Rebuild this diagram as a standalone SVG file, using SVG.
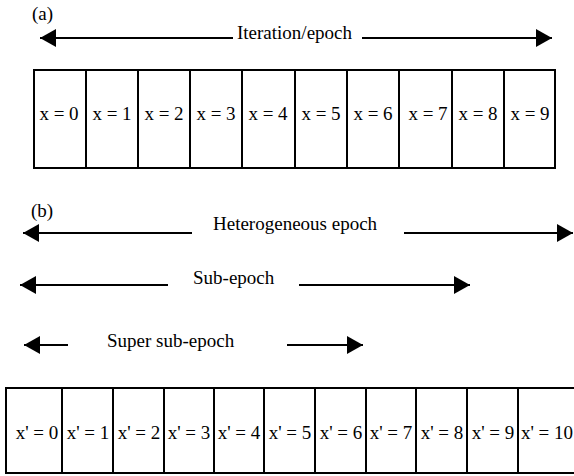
<svg xmlns="http://www.w3.org/2000/svg" width="574" height="476" viewBox="0 0 574 476">
<style>
.ln{stroke:#000;stroke-width:2;fill:none}
.cell{stroke:#000;stroke-width:2;fill:#fff}
</style>
<defs>
<marker id="ah" markerWidth="16" markerHeight="18" refX="16" refY="9" orient="auto-start-reverse" markerUnits="userSpaceOnUse">
<path d="M0,0 L16,9 L0,18 Z" fill="#000"/>
</marker>
</defs>
<rect width="574" height="476" fill="#fff"/>
<g font-family="'Liberation Serif', 'Times New Roman', Times, serif" font-size="19" fill="#000">
<text x="32" y="20">(a)</text>
<text x="31" y="217">(b)</text>
<g id="connectors">
<line class="ln" x1="40" y1="38" x2="233" y2="38" marker-start="url(#ah)"/>
<line class="ln" x1="362" y1="38" x2="552" y2="38" marker-end="url(#ah)"/>
<line class="ln" x1="23" y1="233" x2="192" y2="233" marker-start="url(#ah)"/>
<line class="ln" x1="404" y1="233" x2="573" y2="233" marker-end="url(#ah)"/>
<line class="ln" x1="20" y1="285" x2="168" y2="285" marker-start="url(#ah)"/>
<line class="ln" x1="299" y1="285" x2="470" y2="285" marker-end="url(#ah)"/>
<line class="ln" x1="24" y1="345" x2="68" y2="345" marker-start="url(#ah)"/>
<line class="ln" x1="287" y1="345" x2="363" y2="345" marker-end="url(#ah)"/>
</g>
<g id="labels">
<text x="237" y="39">Iteration/epoch</text>
<text x="213" y="230">Heterogeneous epoch</text>
<text x="193" y="284">Sub-epoch</text>
<text x="107" y="347">Super sub-epoch</text>
</g>
<g id="row-a" text-anchor="middle">
<g id="a0"><rect class="cell" x="34" y="70" width="52" height="98"/><text x="59" y="120">x = 0</text></g>
<g id="a1"><rect class="cell" x="86" y="70" width="52" height="98"/><text x="112" y="120">x = 1</text></g>
<g id="a2"><rect class="cell" x="138" y="70" width="52" height="98"/><text x="164" y="120">x = 2</text></g>
<g id="a3"><rect class="cell" x="190" y="70" width="52" height="98"/><text x="216" y="120">x = 3</text></g>
<g id="a4"><rect class="cell" x="242" y="70" width="53" height="98"/><text x="268" y="120">x = 4</text></g>
<g id="a5"><rect class="cell" x="295" y="70" width="52" height="98"/><text x="321" y="120">x = 5</text></g>
<g id="a6"><rect class="cell" x="347" y="70" width="52" height="98"/><text x="373" y="120">x = 6</text></g>
<g id="a7"><rect class="cell" x="399" y="70" width="53" height="98"/><text x="428" y="120">x = 7</text></g>
<g id="a8"><rect class="cell" x="452" y="70" width="52" height="98"/><text x="478" y="120">x = 8</text></g>
<g id="a9"><rect class="cell" x="504" y="70" width="51" height="98"/><text x="530" y="120">x = 9</text></g>
</g>
<g id="row-b" text-anchor="middle">
<g id="b0"><rect class="cell" x="6" y="388" width="56" height="85"/><text x="37" y="439">x' = 0</text></g>
<g id="b1"><rect class="cell" x="62" y="388" width="51" height="85"/><text x="88" y="439">x' = 1</text></g>
<g id="b2"><rect class="cell" x="113" y="388" width="51" height="85"/><text x="139" y="439">x' = 2</text></g>
<g id="b3"><rect class="cell" x="164" y="388" width="50" height="85"/><text x="189" y="439">x' = 3</text></g>
<g id="b4"><rect class="cell" x="214" y="388" width="50" height="85"/><text x="239" y="439">x' = 4</text></g>
<g id="b5"><rect class="cell" x="264" y="388" width="51" height="85"/><text x="290" y="439">x' = 5</text></g>
<g id="b6"><rect class="cell" x="315" y="388" width="51" height="85"/><text x="341" y="439">x' = 6</text></g>
<g id="b7"><rect class="cell" x="366" y="388" width="50" height="85"/><text x="391" y="439">x' = 7</text></g>
<g id="b8"><rect class="cell" x="416" y="388" width="51" height="85"/><text x="442" y="439">x' = 8</text></g>
<g id="b9"><rect class="cell" x="467" y="388" width="51" height="85"/><text x="493" y="439">x' = 9</text></g>
<g id="b10"><rect class="cell" x="518" y="388" width="60" height="85"/><text x="547" y="439">x' = 10</text></g>
</g>
</g>
</svg>
